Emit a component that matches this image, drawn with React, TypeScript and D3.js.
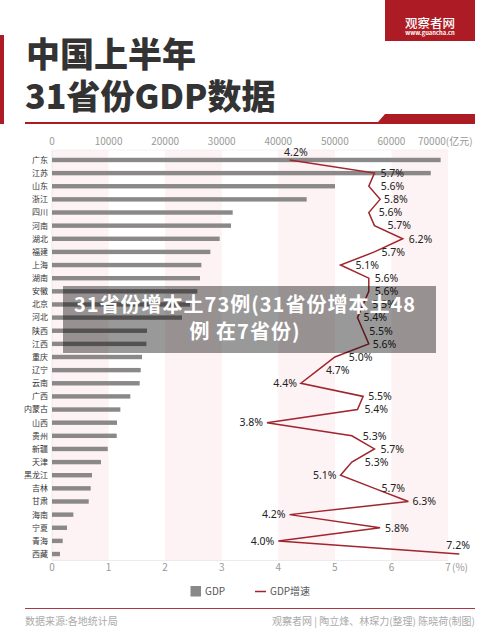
import * as d3 from 'd3';
import React, { useEffect, useRef } from 'react';

const provinces = ['广东', '江苏', '山东', '浙江', '四川', '河南', '湖北', '福建', '上海', '湖南', '安徽', '北京', '河北', '陕西', '江西', '重庆', '辽宁', '云南', '广西', '内蒙古', '山西', '贵州', '新疆', '天津', '黑龙江', '吉林', '甘肃', '海南', '宁夏', '青海', '西藏'];
const gdp = [68700, 66950, 50030, 45020, 31940, 31640, 29640, 27990, 26400, 26160, 25690, 24400, 22980, 16790, 16680, 15910, 15680, 15500, 13840, 12080, 11490, 11440, 9850, 8660, 7070, 6840, 6490, 3770, 2650, 1890, 1410];
const growth = [4.2, 5.7, 5.6, 5.8, 5.6, 5.7, 6.2, 5.7, 5.1, 5.6, 5.6, 5.5, 5.4, 5.5, 5.6, 5.0, 4.7, 4.4, 5.5, 5.4, 3.8, 5.3, 5.7, 5.3, 5.1, 5.7, 6.3, 4.2, 5.8, 4.0, 7.2];

// label offset from the point
const labelDx = [-5.5, 6, 12, 4, 10, 13, 6, 7, 15, 6, 6, 9, 6, 6, 4, 14, 8, -4, 5, 7, -4, 11, 6, 13, -4, 7, 4, -4, 5, -4, -13];
const labelDy = [-8, 0, 0, 0, 0, 0, 0, 0, 0, 0, 0, 0, 0, 0, 0, 0, 0, 0, 0, 0, 0, 0, 0, 0, 0, 0, 0, 0, 0, 0, -9];
// these labels sit to the left of their point
const leftLabels = ['云南', '山西', '黑龙江', '海南', '青海'];

const gdpTicks = [0, 10000, 20000, 30000, 40000, 50000, 60000];
const growthTicks = [0, 1, 2, 3, 4, 5, 6, 7];
const pinkBands = [[0, 1], [2, 3], [4, 5], [6, 7]];

const RED = '#ad1c24';
const CJK = '"Noto Sans CJK SC", "Noto Sans", sans-serif';

const App: React.FC = () => {
  const ref = useRef<SVGSVGElement | null>(null);

  useEffect(() => {
    if (!ref.current) return;
    const svg = d3.select(ref.current);
    svg.selectAll('*').remove();
    svg.attr('font-family', CJK);

    const x = d3.scaleLinear().domain([0, 70000]).range([52, 448]);
    const xg = d3.scaleLinear().domain([0, 7]).range([52, 448]);
    const y = d3.scaleBand().domain(provinces).range([153.4, 560.6]);
    const cy = (p: string) => (y(p) ?? 0) + y.bandwidth() / 2;

    // header
    svg.append('rect').attr('x', 0).attr('y', 35).attr('width', 4).attr('height', 89).attr('fill', RED);
    svg.append('rect').attr('x', 385).attr('y', 0).attr('width', 90).attr('height', 41).attr('fill', RED);
    svg.append('text').attr('x', 430).attr('y', 28).attr('text-anchor', 'middle')
      .attr('font-size', 12.5).attr('font-weight', 500).attr('fill', '#fff').text('观察者网');
    svg.append('text').attr('x', 430).attr('y', 35).attr('text-anchor', 'middle')
      .attr('font-size', 5.8).attr('font-weight', 700).attr('fill', '#fff').text('www.guancha.cn');
    svg.append('text').attr('x', 26).attr('y', 67).attr('font-size', 34).attr('font-weight', 900)
      .attr('fill', '#333').text('中国上半年');
    svg.append('text').attr('x', 25).attr('y', 109).attr('font-size', 34).attr('font-weight', 900)
      .attr('fill', '#333').text('31省份GDP数据');
    svg.append('path').attr('fill', RED).attr('d', 'M25,122H378L385,114H475V124H25Z');

    // pink bands and frame
    svg.selectAll('.band').data(pinkBands).enter().append('rect')
      .attr('x', d => xg(d[0])).attr('y', 150)
      .attr('width', d => xg(d[1]) - xg(d[0])).attr('height', 410.5)
      .attr('fill', '#fdf2f4');
    svg.append('line').attr('x1', 52).attr('x2', 448).attr('y1', 150).attr('y2', 150).attr('stroke', '#eeeeee').attr('stroke-width', 0.7);
    svg.append('line').attr('x1', 52).attr('x2', 448).attr('y1', 560.5).attr('y2', 560.5).attr('stroke', '#e4e4e4').attr('stroke-width', 0.7);
    svg.append('line').attr('x1', 52).attr('x2', 52).attr('y1', 150).attr('y2', 560.5).attr('stroke', '#e4e4e4').attr('stroke-width', 0.7);

    // top axis
    svg.selectAll('.tickTop').data(gdpTicks).enter().append('text')
      .attr('x', d => x(d)).attr('y', 145).attr('text-anchor', 'middle')
      .attr('font-size', 10).attr('fill', '#999').text(d => String(d));
    svg.append('text').attr('x', 418).attr('y', 145).attr('font-size', 10).attr('fill', '#999').text('70000(亿元)');

    // bottom axis
    svg.selectAll('.tickBottom').data(growthTicks).enter().append('text')
      .attr('x', d => xg(d)).attr('y', 571).attr('text-anchor', 'middle')
      .attr('font-size', 10).attr('fill', '#999').text(d => String(d));
    svg.append('text').attr('x', 452).attr('y', 571).attr('font-size', 10).attr('fill', '#999').text('(%)');

    // provinces
    svg.selectAll('.prov').data(provinces).enter().append('text')
      .attr('x', 48).attr('y', d => cy(d)).attr('dy', '0.36em').attr('text-anchor', 'end')
      .attr('font-size', 8).attr('fill', '#333').text(d => d);

    // bars
    svg.selectAll('.bar').data(gdp).enter().append('rect')
      .attr('x', x(0)).attr('y', (_d, i) => cy(provinces[i]) - 2.2)
      .attr('width', d => x(d) - x(0)).attr('height', 4.4)
      .attr('fill', '#8a8888');

    // growth line
    const line = d3.line<number>()
      .x(d => xg(d))
      .y((_d, i) => cy(provinces[i]));
    svg.append('path').attr('d', line(growth)).attr('fill', 'none')
      .attr('stroke', '#a0252e').attr('stroke-width', 1.5);

    svg.selectAll('.val').data(growth).enter().append('text')
      .attr('x', (d, i) => xg(d) + labelDx[i])
      .attr('y', (_d, i) => cy(provinces[i]) + labelDy[i])
      .attr('dy', '0.36em')
      .attr('text-anchor', (_d, i) => (leftLabels.includes(provinces[i]) ? 'end' : 'start'))
      .attr('font-family', '"Noto Sans", sans-serif')
      .attr('font-size', 10.5).attr('fill', '#222').text(d => d.toFixed(1) + '%');

    // legend
    svg.append('rect').attr('x', 190.5).attr('y', 586).attr('width', 10.5).attr('height', 10.5).attr('fill', '#8a8888');
    svg.append('text').attr('x', 205).attr('y', 595).attr('font-size', 10).attr('fill', '#555').text('GDP');
    svg.append('line').attr('x1', 255).attr('x2', 266).attr('y1', 591.5).attr('y2', 591.5).attr('stroke', '#a0252e').attr('stroke-width', 1.5);
    svg.append('text').attr('x', 270).attr('y', 595).attr('font-size', 10).attr('fill', '#555').text('GDP增速');

    // footer
    svg.append('line').attr('x1', 25).attr('x2', 475).attr('y1', 608.5).attr('y2', 608.5).attr('stroke', '#a83a45').attr('stroke-width', 1);
    svg.append('text').attr('x', 25).attr('y', 625).attr('font-size', 10).attr('fill', '#aaa').text('数据来源:各地统计局');
    svg.append('text').attr('x', 475).attr('y', 625).attr('text-anchor', 'end').attr('font-size', 10).attr('fill', '#aaa')
      .text('观察者网 | 陶立烽、林琛力(整理) 陈晓荷(制图)');

    // caption strip over the chart
    svg.append('rect').attr('x', 63).attr('y', 286).attr('width', 373).attr('height', 67)
      .attr('fill', '#000').attr('fill-opacity', 0.4);
    svg.append('text').attr('x', 245).attr('y', 311.5).attr('text-anchor', 'middle')
      .attr('font-size', 20).attr('font-weight', 700).attr('letter-spacing', 1).attr('fill', '#fff')
      .text('31省份增本土73例(31省份增本土48');
    svg.append('text').attr('x', 245).attr('y', 339).attr('text-anchor', 'middle')
      .attr('font-size', 20).attr('font-weight', 700).attr('letter-spacing', 1).attr('fill', '#fff')
      .text('例 在7省份)');
  }, []);

  return <svg ref={ref} width={500} height={640} style={{ position: 'absolute', left: 0, top: 0, background: '#fff' }} />;
};

export default App;
